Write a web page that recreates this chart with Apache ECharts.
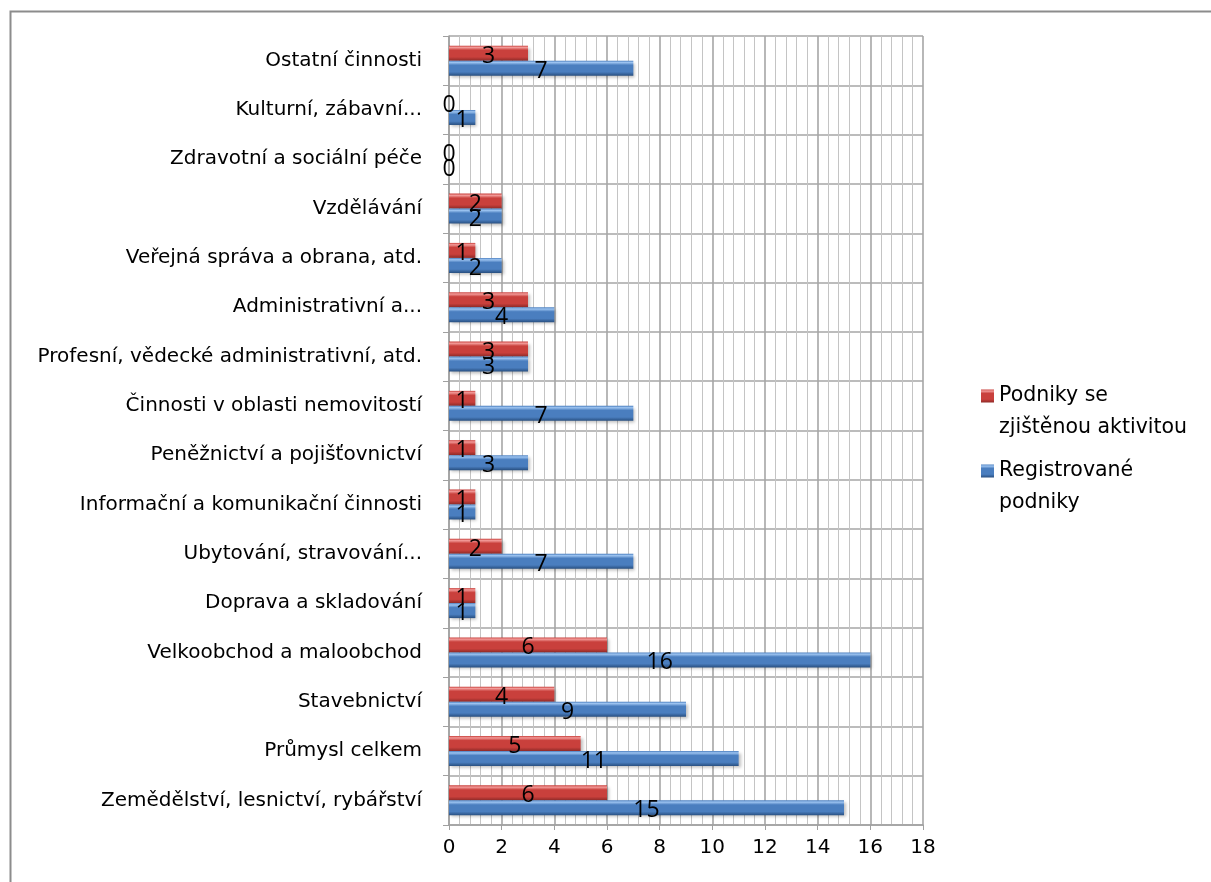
<!DOCTYPE html>
<html><head><meta charset="utf-8">
<script src="https://cdn.jsdelivr.net/npm/echarts@6/dist/echarts.min.js"></script>
<style>html,body{margin:0;padding:0;background:#fff}#c{width:1211px;height:882px}</style>
</head><body><div id="c"></div>
<script>
const categories = [
  "Zemědělství, lesnictví, rybářství",
  "Průmysl celkem",
  "Stavebnictví",
  "Velkoobchod a maloobchod",
  "Doprava a skladování",
  "Ubytování, stravování...",
  "Informační a komunikační činnosti",
  "Peněžnictví a pojišťovnictví",
  "Činnosti v oblasti nemovitostí",
  "Profesní, vědecké administrativní, atd.",
  "Administrativní a...",
  "Veřejná správa a obrana, atd.",
  "Vzdělávání",
  "Zdravotní a sociální péče",
  "Kulturní, zábavní...",
  "Ostatní činnosti"
];
const activeValues =     [6, 5, 4, 6, 1, 2, 1, 1, 1, 3, 3, 1, 2, 0, 0, 3];
const registeredValues = [15, 11, 9, 16, 1, 7, 1, 3, 7, 3, 4, 2, 2, 0, 1, 7];
const xTicks = [0, 2, 4, 6, 8, 10, 12, 14, 16, 18];
const seriesNames = ["Podniky se\nzjištěnou aktivitou", "Registrované\npodniky"];

const font = "'DejaVu Sans', sans-serif";
const numFont = "'Open Sans', sans-serif";
function grad(light, mid, dark) {
  return new echarts.graphic.LinearGradient(0, 0, 0, 1, [
    {offset: 0, color: mid},
    {offset: 0.12, color: light},
    {offset: 0.3, color: mid},
    {offset: 0.75, color: mid},
    {offset: 1, color: dark}
  ]);
}
const labelCfg = {
  show: true, position: 'inside', color: '#000', fontSize: 23,
  fontFamily: numFont, offset: [0, 3]
};
const legendText = {fontFamily: font, fontSize: 20.5, color: '#000', lineHeight: 32};
const legendFmt = name => '\n' + name;
const chart = echarts.init(document.getElementById('c'));
chart.setOption({
  animation: false,
  backgroundColor: '#fff',
  graphic: [{
    type: 'rect', left: 8, top: 9,
    shape: {width: 1240, height: 900},
    style: {fill: 'none', stroke: '#8c8c8c', lineWidth: 2}
  }],
  grid: {left: 449, right: 288, top: 36, bottom: 57, containLabel: false},
  legend: [{
    orient: 'vertical', left: 976, top: 343,
    itemWidth: 13, itemHeight: 13, icon: 'rect', formatter: legendFmt,
    data: [seriesNames[0]], textStyle: legendText
  }, {
    orient: 'vertical', left: 976, top: 418,
    itemWidth: 13, itemHeight: 13, icon: 'rect', formatter: legendFmt,
    data: [seriesNames[1]], textStyle: legendText
  }],
  xAxis: {
    type: 'value', min: 0, max: xTicks[xTicks.length - 1], interval: 2,
    axisLine: {show: true, lineStyle: {color: '#a0a0a0', width: 1.5}},
    axisTick: {show: true, length: 5, lineStyle: {color: '#a0a0a0'}},
    axisLabel: {color: '#000', fontFamily: font, fontSize: 20, margin: 13},
    splitLine: {show: true, lineStyle: {color: '#a6a6a6', width: 1.6}},
    minorTick: {show: false, splitNumber: 5},
    minorSplitLine: {show: true, lineStyle: {color: '#c4c4c4', width: 1}}
  },
  yAxis: {
    type: 'category', data: categories,
    axisLine: {show: true, lineStyle: {color: '#a0a0a0', width: 1.5}},
    axisTick: {show: true, length: 6, lineStyle: {color: '#a0a0a0'}},
    axisLabel: {color: '#000', fontFamily: font, fontSize: 20, margin: 27},
    splitLine: {show: true, lineStyle: {color: '#a6a6a6', width: 1.5}}
  },
  series: [
    {
      name: seriesNames[0], type: 'bar', data: activeValues,
      barWidth: 15, barGap: '0%',
      itemStyle: {color: grad('#f29a98', '#c9403c', '#8e2a27'),
        shadowColor: 'rgba(0,0,0,0.25)', shadowBlur: 3, shadowOffsetX: 2, shadowOffsetY: 2},
      label: labelCfg
    },
    {
      name: seriesNames[1], type: 'bar', data: registeredValues,
      barWidth: 15, barGap: '0%',
      itemStyle: {color: grad('#9cc3f0', '#4a7ebf', '#284f80'),
        shadowColor: 'rgba(0,0,0,0.25)', shadowBlur: 3, shadowOffsetX: 2, shadowOffsetY: 2},
      label: labelCfg
    }
  ]
});
</script></body></html>
